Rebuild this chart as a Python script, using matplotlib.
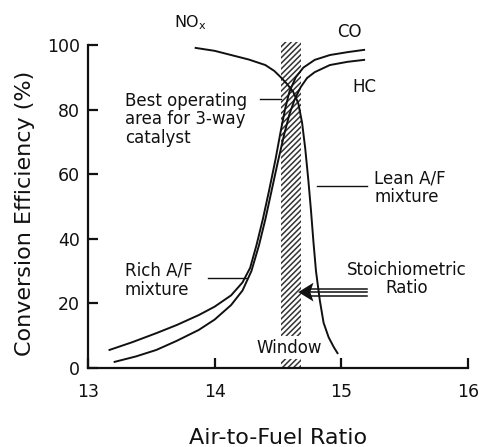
import matplotlib
matplotlib.use('Agg')
import matplotlib.pyplot as plt
from matplotlib.patches import Rectangle

# Conversion efficiency curves of a three-way catalyst vs air-to-fuel ratio
co_afr = [13.17, 13.35, 13.54, 13.70, 13.875, 14.00, 14.13, 14.22, 14.28, 14.33, 14.38, 14.43,
          14.48, 14.52, 14.555, 14.59, 14.64, 14.70, 14.79, 14.91, 15.05, 15.18]
co_eff = [5.6, 8.0, 10.8, 13.3, 16.4, 19.0, 22.5, 26.5, 31.0, 38.0, 46.0, 55.0,
          64.5, 73.0, 80.0, 85.5, 90.0, 93.0, 95.4, 96.9, 97.8, 98.5]

hc_afr = [13.21, 13.38, 13.54, 13.70, 13.875, 14.00, 14.13, 14.22, 14.29, 14.35, 14.40, 14.45,
          14.50, 14.55, 14.59, 14.63, 14.68, 14.73, 14.79, 14.91, 15.05, 15.18]
hc_eff = [1.9, 3.6, 5.6, 8.4, 11.8, 15.0, 19.5, 24.0, 30.0, 38.0, 46.0, 55.0,
          64.0, 72.5, 78.5, 83.0, 87.0, 89.8, 91.6, 93.8, 94.8, 95.4]

nox_afr = [13.85, 14.00, 14.13, 14.27, 14.40, 14.47, 14.52, 14.57, 14.62, 14.66, 14.69, 14.715,
           14.74, 14.76, 14.78, 14.80, 14.83, 14.86, 14.90, 14.94, 14.97]
nox_eff = [99.1, 98.2, 96.9, 95.5, 93.8, 92.0, 90.1, 88.0, 85.5, 82.0, 76.0, 68.0,
           58.0, 49.0, 39.0, 30.0, 21.0, 14.0, 9.5, 6.5, 4.6]

# operating window (A/F range) and stoichiometric arrow height
window_afr = (14.52, 14.68)
stoich_y = 23.5

x_ticks = [13, 14, 15, 16]
y_ticks = [0, 20, 40, 60, 80, 100]

ink = '#111111'
plt.rcParams['hatch.linewidth'] = 1.1

fig = plt.figure(figsize=(4.79, 4.47), dpi=100)
ax = fig.add_axes([0.1837, 0.1767, 0.7933, 0.7226])

ax.set_xlim(13, 16)
ax.set_ylim(0, 100)
ax.spines['top'].set_visible(False)
ax.spines['right'].set_visible(False)
for s in ('left', 'bottom'):
    ax.spines[s].set_linewidth(1.6)
    ax.spines[s].set_color(ink)

ax.set_xticks(x_ticks)
ax.set_yticks(y_ticks)
ax.tick_params(axis='both', direction='in', length=7, width=1.6, colors=ink, labelsize=12.5)
ax.tick_params(axis='x', pad=11)
ax.tick_params(axis='y', pad=6)

ax.set_xlabel('Air-to-Fuel Ratio', fontsize=16, color=ink)
ax.set_ylabel('Conversion Efficiency (%)', fontsize=16, color=ink)
ax.xaxis.set_label_coords(0.5, -0.185)
ax.yaxis.set_label_coords(-0.14, 0.48)

# hatched window
ax.add_patch(Rectangle((window_afr[0], 0), window_afr[1] - window_afr[0], 101,
                       facecolor='white', edgecolor='#333333', hatch='//////',
                       linewidth=0, clip_on=False, zorder=1))

for xs, ys in ((co_afr, co_eff), (hc_afr, hc_eff), (nox_afr, nox_eff)):
    ax.plot(xs, ys, color=ink, linewidth=1.4, clip_on=False, zorder=3,
            solid_joinstyle='round')

# curve labels
ax.text(13.81, 107, 'NO$_\\mathregular{x}$', fontsize=11.5, ha='center', va='center', color=ink)
ax.text(15.06, 104, 'CO', fontsize=12, ha='center', va='center', color=ink)
ax.text(15.18, 87, 'HC', fontsize=12, ha='center', va='center', color=ink)

# callouts
ax.text(13.29, 77, 'Best operating\narea for 3-way\ncatalyst', fontsize=12,
        ha='left', va='center', linespacing=1.05, color=ink)
ax.plot([14.36, 14.52], [83.3, 83.3], color=ink, linewidth=1.0)

ax.text(13.29, 27.2, 'Rich A/F\nmixture', fontsize=12, ha='left', va='center',
        linespacing=1.05, color=ink)
ax.plot([13.95, 14.25], [27.9, 27.9], color=ink, linewidth=1.0)

ax.text(15.26, 55.7, 'Lean A/F\nmixture', fontsize=12, ha='left', va='center',
        linespacing=1.05, color=ink)
ax.plot([14.81, 15.2], [56.3, 56.3], color=ink, linewidth=1.0)

ax.text(15.52, 27.5, 'Stoichiometric\nRatio', fontsize=12, ha='center', va='center',
        linespacing=1.0, color=ink)

# stoichiometric arrow: triple-line shaft with a solid head
for dy in (-1.05, 0, 1.05):
    ax.plot([14.74, 15.2], [stoich_y + dy, stoich_y + dy], color=ink, linewidth=1.1)
ax.fill([14.66, 14.78, 14.755, 14.78], [stoich_y, stoich_y + 2.9, stoich_y, stoich_y - 2.9],
        color=ink, linewidth=0, zorder=4)

ax.text(14.59, 6.3, 'Window', fontsize=12, ha='center', va='center', color=ink,
        bbox=dict(facecolor='white', edgecolor='none', pad=2.0), zorder=2)

fig.savefig('out.png', dpi=100)
